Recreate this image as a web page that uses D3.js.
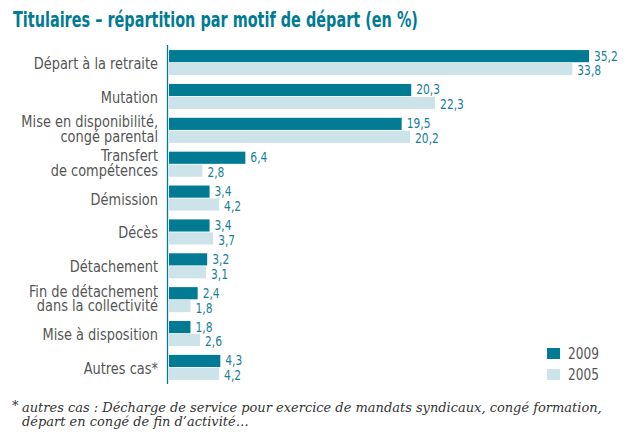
<!DOCTYPE html>
<html>
<head>
<meta charset="utf-8">
<script src="https://cdn.jsdelivr.net/npm/d3@7"></script>
<style>
  body { margin: 0; background: #fff; }
  svg { display: block; }
</style>
</head>
<body>
<div id="chart"><svg></svg></div>
<script>
// categories (multi-line labels split by \n)
const categories = [
  "Départ à la retraite",
  "Mutation",
  "Mise en disponibilité,\ncongé parental",
  "Transfert\nde compétences",
  "Démission",
  "Décès",
  "Détachement",
  "Fin de détachement\ndans la collectivité",
  "Mise à disposition",
  "Autres cas*"
];
const series = ["2009", "2005"];
const values2009 = [35.2, 20.3, 19.5, 6.4, 3.4, 3.4, 3.2, 2.4, 1.8, 4.3];
const values2005 = [33.8, 22.3, 20.2, 2.8, 4.2, 3.7, 3.1, 1.8, 2.6, 4.2];

const width = 638, height = 443;
const teal = "#007b93", light = "#cde3ea", grey = "#555";
const condensed = "'DejaVu Sans Condensed', 'Liberation Sans Narrow', sans-serif";

const svg = d3.select("#chart").select("svg")
    .attr("width", width)
    .attr("height", height);

const x = d3.scaleLinear()
    .domain([0, 35.2])
    .range([169, 589]);

const y = d3.scaleBand()
    .domain(categories)
    .range([46, 384])
    .paddingInner(0.26)
    .paddingOuter(0.12);

const y1 = d3.scaleBand()
    .domain(series)
    .range([0, y.bandwidth()])
    .paddingInner(0.06);

const color = d3.scaleOrdinal().domain(series).range([teal, light]);

// squeeze a text horizontally so it fits the condensed look of the original
function squeeze(sel, tx, ty, target) {
    const w = sel.node().getComputedTextLength();
    const k = target / w;
    sel.attr("transform", "translate(" + tx + "," + ty + ") scale(" + k + ",1)");
}

// title
const title = svg.append("text")
    .attr("x", 0)
    .attr("y", 0)
    .style("font-family", condensed)
    .style("font-weight", "bold")
    .style("font-size", "21px")
    .style("fill", teal)
    .text("Titulaires – répartition par motif de départ (en %)");
squeeze(title, 13, 27, 405);

const data = categories.map(function (c, i) {
    return { cat: c, values: [
        { s: "2009", v: values2009[i] },
        { s: "2005", v: values2005[i] }
    ]};
});

const slice = svg.selectAll(".slice")
    .data(data)
    .enter().append("g")
    .attr("class", "slice")
    .attr("transform", function (d) { return "translate(0," + y(d.cat) + ")"; });

slice.selectAll("rect")
    .data(function (d) { return d.values; })
    .enter().append("rect")
    .attr("x", x(0))
    .attr("y", function (d) { return y1(d.s); })
    .attr("width", function (d) { return x(d.v) - x(0); })
    .attr("height", y1.bandwidth())
    .style("fill", function (d) { return color(d.s); });

slice.selectAll(".val")
    .data(function (d) { return d.values; })
    .enter().append("text")
    .attr("class", "val")
    .attr("transform", function (d, i) {
        return "translate(" + (x(d.v) + 5) + "," + (y1(d.s) + (i === 0 ? 10.5 : 12.5)) + ") scale(0.85,1)";
    })
    .style("font-family", condensed)
    .style("font-size", "14px")
    .style("fill", "#17809a")
    .text(function (d) { return d3.format(".1f")(d.v).replace(".", ","); });

// category labels
const labels = slice.append("g")
    .attr("transform", "translate(158,0) scale(0.9,1)")
    .append("text")
    .attr("text-anchor", "end")
    .style("font-family", condensed)
    .style("font-size", "16px")
    .style("fill", grey);

labels.each(function (d) {
    const lines = d.cat.split("\n");
    const mid = y.bandwidth() / 2;
    const t = d3.select(this);
    lines.forEach(function (l, i) {
        const yy = lines.length === 1 ? mid + 6.5 : mid - 3 + i * 14.5;
        t.append("tspan")
            .attr("x", 0)
            .attr("y", yy)
            .text(l);
    });
});

// axis line
svg.append("line")
    .attr("x1", 167.5).attr("x2", 167.5)
    .attr("y1", 45).attr("y2", 384)
    .style("stroke", teal)
    .style("stroke-width", 1.3);

// legend
const legend = svg.append("g")
    .attr("transform", "translate(547,348)");

legend.selectAll("rect")
    .data(series)
    .enter().append("rect")
    .attr("x", 0)
    .attr("y", function (d, i) { return i * 21; })
    .attr("width", 13)
    .attr("height", 11)
    .style("fill", function (d) { return color(d); });

legend.selectAll("text")
    .data(series)
    .enter().append("text")
    .attr("transform", function (d, i) { return "translate(21," + (i * 21 + 11) + ") scale(0.9,1)"; })
    .style("font-family", condensed)
    .style("font-size", "15px")
    .style("fill", grey)
    .text(function (d) { return d; });

// footnote
const noteFont = "'DejaVu Serif', 'Liberation Serif', serif";
svg.append("text")
    .attr("x", 12).attr("y", 410)
    .style("font-family", noteFont)
    .style("font-style", "italic")
    .style("font-size", "13px")
    .style("fill", "#333")
    .text("*");

const note = svg.append("g");
const line1 = note.append("text")
    .attr("x", 0).attr("y", 0)
    .style("font-family", noteFont)
    .style("font-style", "italic")
    .style("font-size", "13px")
    .style("fill", "#333")
    .text("autres cas : Décharge de service pour exercice de mandats syndicaux, congé formation,");
const k = 580 / line1.node().getComputedTextLength();
note.append("text")
    .attr("x", 0).attr("y", 14.5)
    .style("font-family", noteFont)
    .style("font-style", "italic")
    .style("font-size", "13px")
    .style("fill", "#333")
    .text("départ en congé de fin d’activité…");
note.attr("transform", "translate(22,411.5) scale(" + k + ",1)");
</script>
</body>
</html>
